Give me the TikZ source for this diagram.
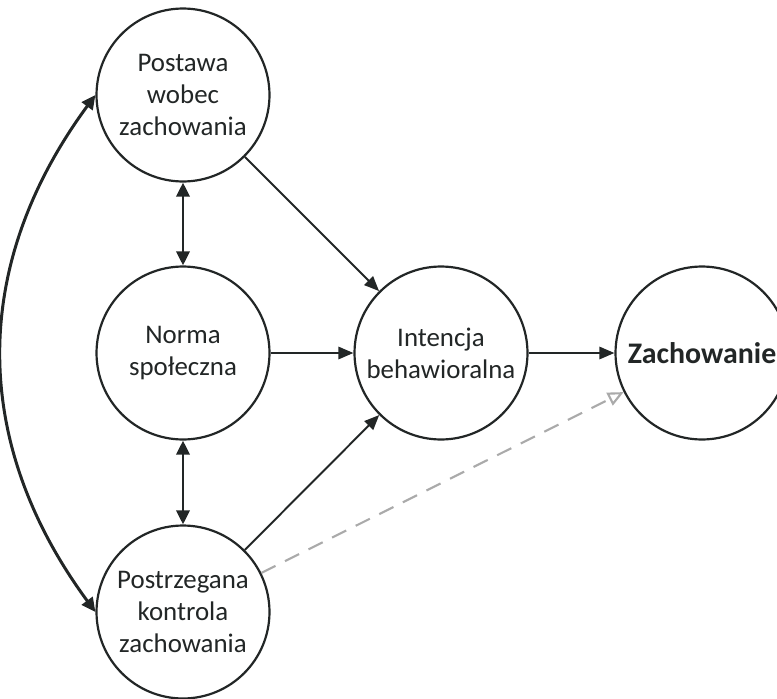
\documentclass[tikz,border=0pt]{standalone}
\usepackage{fontspec}
\setmainfont{Carlito}
\usetikzlibrary{arrows.meta}
\definecolor{inkdark}{RGB}{34,38,38}
\definecolor{dashgray}{RGB}{170,170,170}
\tikzset{
  factor/.style={circle,draw=inkdark,line width=1.25pt,fill=white,align=center,
    minimum size=3.46cm,inner sep=0pt,text=inkdark,
    font=\fontsize{15.3}{18.3}\selectfont},
  effect/.style={factor,font=\fontsize{17}{20}\selectfont\bfseries},
  path/.style={draw=inkdark,line width=1.1pt,-{Triangle[length=8.5pt,width=7pt]}},
  mutual/.style={draw=inkdark,line width=1.7pt,
    {Triangle[length=8pt,width=7.5pt]}-{Triangle[length=8pt,width=7.5pt]}},
  direct/.style={draw=dashgray,line width=1.2pt,dash pattern=on 9pt off 6pt,
    -{Triangle[open,length=9pt,width=8pt]}}
}
\begin{document}
\begin{tikzpicture}[x=0.02cm,y=0.02cm]
  \useasboundingbox (0,0) rectangle (777,698);
  % model planowanego zachowania
  \node[factor] (postawa) at (183,603) {Postawa\\wobec\\zachowania};
  \node[factor] (norma) at (183,345) {Norma\\społeczna};
  \node[factor] (kontrola) at (183,86) {Postrzegana\\kontrola\\zachowania};
  \node[factor] (intencja) at (441,345) {Intencja\\behawioralna};
  \node[effect] (zachowanie) at (702,345) {Zachowanie};

  \draw[path] (postawa) -- (intencja);
  \draw[path] (norma) -- (intencja);
  \draw[path] (kontrola) -- (intencja);
  \draw[path] (intencja) -- (zachowanie);
  \draw[direct] (kontrola) -- (zachowanie);

  \draw[mutual] (postawa) -- (norma);
  \draw[mutual] (norma) -- (kontrola);
  \draw[mutual] (postawa.west) .. controls +(-125,-170) and +(-125,170) .. (kontrola.west);
\end{tikzpicture}
\end{document}
